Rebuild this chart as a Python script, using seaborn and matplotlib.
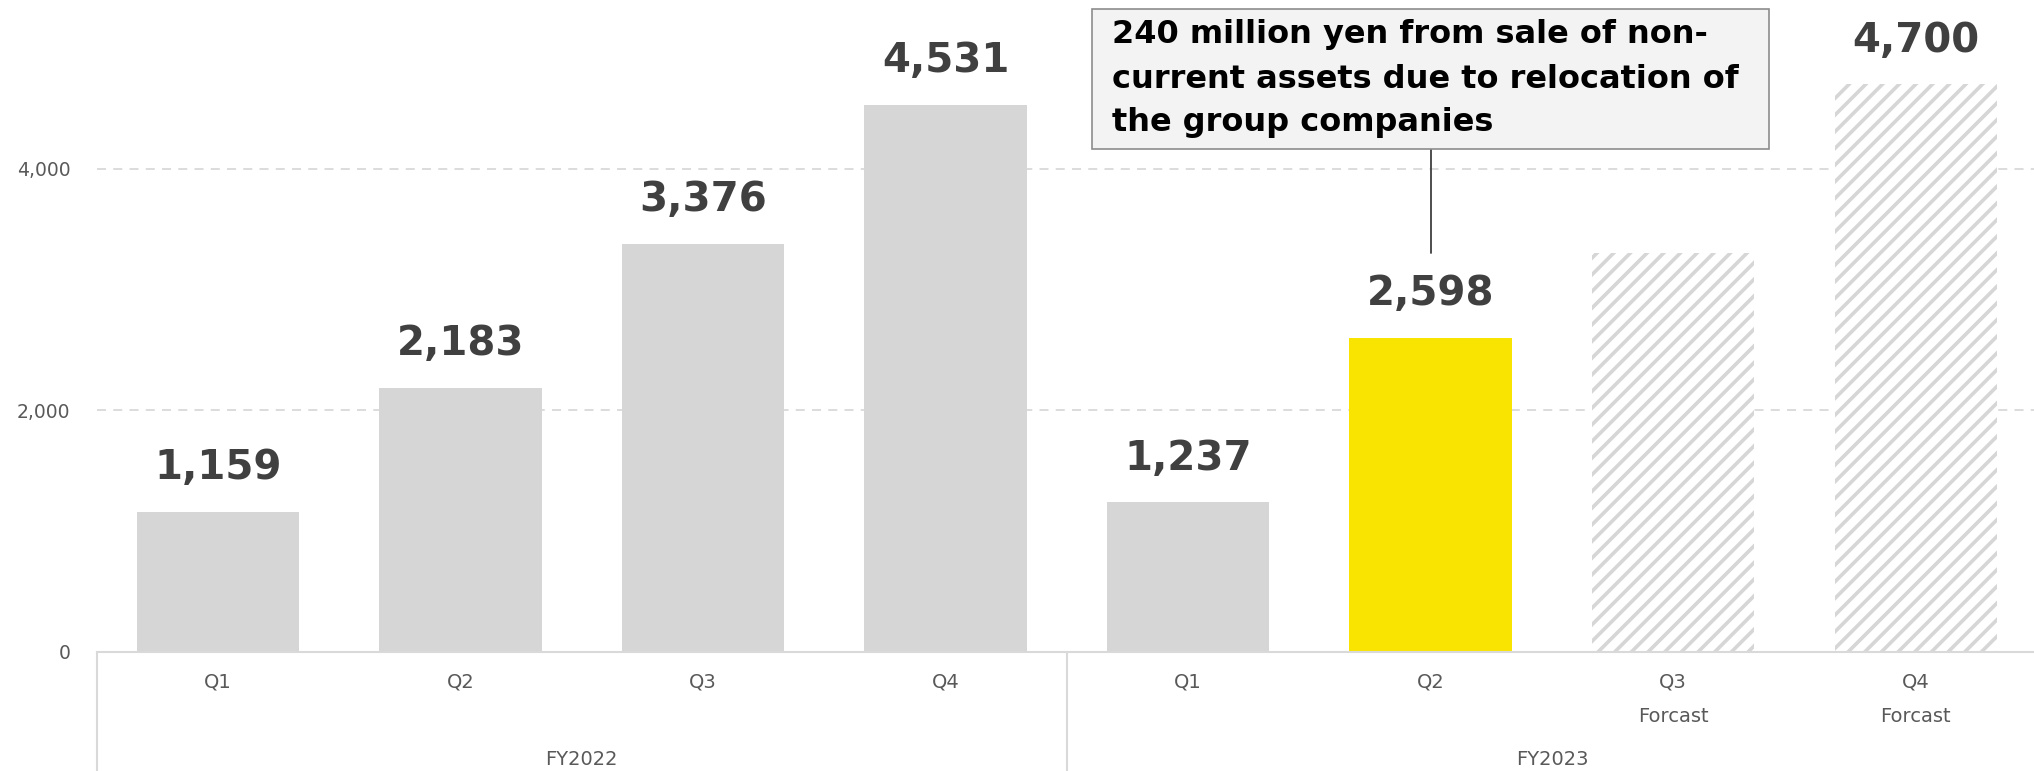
import matplotlib
matplotlib.use("Agg")
import matplotlib.pyplot as plt
from matplotlib.patches import Rectangle
import seaborn as sns
import pandas as pd

# ---- data ----
quarters = ["Q1", "Q2", "Q3", "Q4", "Q1", "Q2", "Q3", "Q4"]
years = ["FY2022"] * 4 + ["FY2023"] * 4
values = [1159, 2183, 3376, 4531, 1237, 2598, 3300, 4700]
show_value = [True, True, True, True, True, True, False, True]
forecast = [False, False, False, False, False, False, True, True]
highlight = [False, False, False, False, False, True, False, False]
sub_labels = ["", "", "", "", "", "", "Forcast", "Forcast"]
year_labels = ["FY2022", "FY2023"]
note_lines = ["240 million yen from sale of non-",
              "current assets due to relocation of",
              "the group companies"]

GRAY = "#d6d6d6"
YELLOW = "#f8e400"
TXT = "#595959"
VAL = "#404040"

sns.set_theme(style="white")
plt.rcParams['font.family'] = ['DejaVu Sans']
plt.rcParams['hatch.linewidth'] = 2.6
plt.rcParams['hatch.color'] = GRAY

keys = [f"{y}-{q}" for y, q in zip(years, quarters)]
df = pd.DataFrame({"key": keys, "value": values})
palette = {k: (YELLOW if h else GRAY) for k, h in zip(keys, highlight)}

fig = plt.figure(figsize=(20.34, 7.71), dpi=100)
ax = fig.add_axes([0.0475, 0.1549, 0.954, 0.8451])

sns.barplot(data=df, x="key", y="value", hue="key", palette=palette,
            order=keys, hue_order=keys, width=0.67, saturation=1,
            legend=False, ax=ax, linewidth=0)

for p, fc in zip(ax.patches, forecast):
    p.set_linewidth(0)
    if fc:
        p.set_facecolor("white")
        p.set_edgecolor(GRAY)
        p.set_hatch("//")

ax.set_xlim(-0.5, 7.5)
ax.set_ylim(0, 5400)
ax.set_yticks([0, 2000, 4000])
ax.set_yticklabels([f"{v:,}" for v in [0, 2000, 4000]], color=TXT, fontsize=13.5)
ax.tick_params(axis="y", length=0, pad=19)
ax.yaxis.grid(True, linestyle=(0, (5, 4)), color="#d9d9d9", linewidth=1.3)
ax.set_axisbelow(True)

ax.set_xticks(range(len(keys)))
ax.set_xticklabels(quarters, color=TXT, fontsize=14)
ax.tick_params(axis="x", length=0, pad=15)
ax.set_xlabel("")
ax.set_ylabel("")

for s in ["top", "right", "left"]:
    ax.spines[s].set_visible(False)
ax.spines["bottom"].set_color("#d9d9d9")
ax.spines["bottom"].set_linewidth(1.5)

xt = ax.get_xaxis_transform()
for i, (v, sv) in enumerate(zip(values, show_value)):
    if sv:
        ax.annotate(f"{v:,}", xy=(i, v), xytext=(0, 31.5), textcoords="offset points",
                    ha="center", va="center", fontsize=29, fontweight="bold", color=VAL)
for i, s in enumerate(sub_labels):
    if s:
        ax.text(i, -0.099, s, transform=xt, ha="center", va="center",
                fontsize=14, color=TXT)
ax.text(1.5, -0.165, year_labels[0], transform=xt, ha="center", va="center",
        fontsize=14, color=TXT)
ax.text(5.5, -0.165, year_labels[1], transform=xt, ha="center", va="center",
        fontsize=14, color=TXT)
for xv in [-0.5, 3.5]:
    ax.plot([xv, xv], [0, -0.2], transform=xt, color="#d9d9d9", lw=1.5, clip_on=False)

# annotation callout
ax.plot([5, 5], [3300, 4170], color="#404040", lw=1.3)
fig.patches.append(Rectangle((1092 / 2034, 1 - 149 / 771), 677 / 2034, 140 / 771,
                             transform=fig.transFigure, facecolor="#f3f3f3",
                             edgecolor="#8c8c8c", linewidth=1.2, zorder=5))
for yy, line in zip([35, 79, 123], note_lines):
    fig.text(1112 / 2034, 1 - yy / 771, line, ha="left", va="center",
             fontsize=23, fontweight="bold", color="black",
             family=["DejaVu Sans"], zorder=6)

fig.savefig("out.png", dpi=100)
